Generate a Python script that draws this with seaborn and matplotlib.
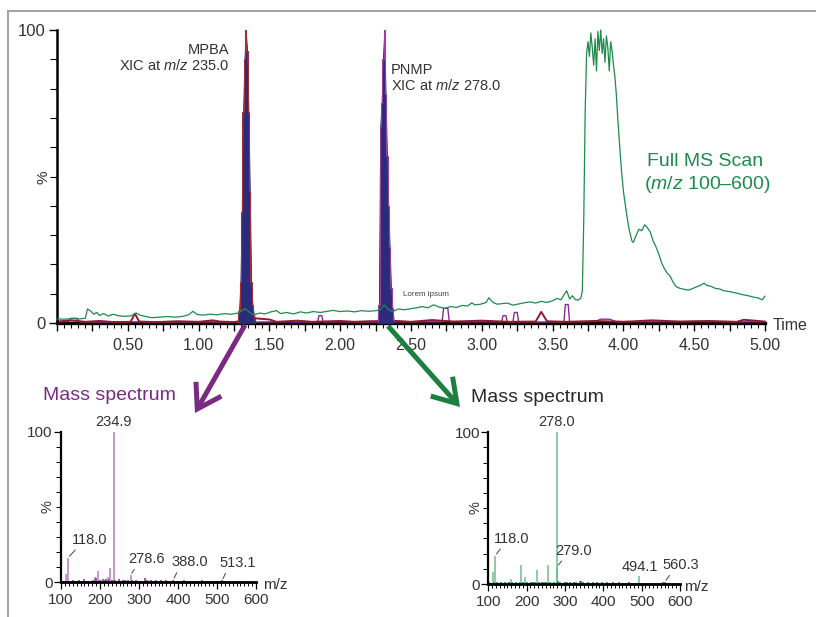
import numpy as np
import pandas as pd
import matplotlib
matplotlib.use("Agg")
import matplotlib.pyplot as plt
import seaborn as sns
from matplotlib.patches import FancyArrowPatch
from matplotlib.lines import Line2D
from matplotlib.ticker import MultipleLocator, FixedLocator, FuncFormatter

sns.set_theme(style="white")
plt.rcParams["font.family"] = ["Liberation Sans", "DejaVu Sans"]
plt.rcParams["mathtext.fontset"] = "custom"
plt.rcParams["mathtext.rm"] = "Liberation Sans"
plt.rcParams["mathtext.it"] = "Liberation Sans:italic"

# ---------------- data ----------------
# Full MS scan (TIC, m/z 100-600)
ms_time = [0.00, 0.05, 0.10, 0.15, 0.20, 0.215, 0.24, 0.26, 0.28, 0.30, 0.33, 0.36, 0.40, 0.43, 0.47,
           0.52, 0.56, 0.59, 0.63, 0.67, 0.72, 0.78, 0.84, 0.89, 0.93, 0.96, 0.99, 1.03, 1.08, 1.13,
           1.18, 1.23, 1.28, 1.31, 1.33, 1.36, 1.39, 1.43, 1.47, 1.51, 1.55, 1.58, 1.62, 1.67, 1.72,
           1.76, 1.81, 1.86, 1.91, 1.95, 2.00, 2.05, 2.10, 2.15, 2.20, 2.25, 2.28, 2.31, 2.34, 2.37,
           2.41, 2.45, 2.50, 2.54, 2.58, 2.62, 2.66, 2.70, 2.74, 2.78, 2.82, 2.86, 2.90, 2.93, 2.95,
           2.99, 3.03, 3.05, 3.08, 3.11, 3.14, 3.18, 3.22, 3.26, 3.30, 3.34, 3.38, 3.42, 3.46, 3.50,
           3.53, 3.56, 3.58, 3.60, 3.62, 3.64, 3.66, 3.68, 3.70, 3.71, 3.72, 3.73, 3.74, 3.75, 3.76,
           3.77, 3.78, 3.79, 3.80, 3.81, 3.82, 3.83, 3.84, 3.85, 3.86, 3.87, 3.88, 3.89, 3.90, 3.91,
           3.92, 3.93, 3.94, 3.95, 3.96, 3.97, 3.98, 3.99, 4.00, 4.02, 4.04, 4.06, 4.07, 4.09, 4.11,
           4.13, 4.15, 4.17, 4.19, 4.21, 4.23, 4.25, 4.27, 4.29, 4.31, 4.33, 4.35, 4.37, 4.40, 4.43,
           4.46, 4.49, 4.52, 4.55, 4.57, 4.59, 4.62, 4.65, 4.68, 4.71, 4.74, 4.77, 4.80, 4.83, 4.86,
           4.89, 4.92, 4.95, 4.98, 5.00]
ms_int = [1.4, 1.3, 1.5, 1.4, 1.6, 4.8, 4.0, 3.0, 3.6, 2.6, 3.2, 2.4, 3.0, 2.5, 2.3,
          2.4, 3.4, 2.6, 2.2, 1.8, 2.0, 2.2, 2.0, 2.3, 2.8, 4.0, 2.9, 2.7, 3.0, 2.8,
          3.2, 3.0, 3.4, 4.4, 4.9, 3.6, 2.7, 3.4, 3.1, 3.8, 4.2, 3.2, 3.6, 3.1, 3.8,
          3.4, 3.9, 3.6, 4.0, 4.3, 3.9, 4.1, 3.8, 4.2, 4.0, 4.2, 4.4, 6.2, 4.6, 3.9,
          4.8, 4.5, 4.9, 5.2, 5.6, 5.2, 6.2, 5.4, 5.0, 5.6, 5.3, 6.0, 5.8, 6.9, 6.2,
          6.4, 7.0, 8.6, 7.0, 6.4, 6.6, 6.8, 6.1, 6.5, 6.9, 7.2, 6.8, 7.4, 7.0, 7.6,
          8.4, 7.9, 9.6, 11.0, 8.2, 9.3, 8.0, 7.8, 8.5, 11.0, 35.0, 72.0, 92.0, 96.0, 91.0,
          99.0, 94.0, 88.0, 97.0, 86.0, 99.5, 93.0, 100.0, 92.0, 97.0, 89.0, 98.0, 94.0, 86.0, 96.0,
          93.0, 88.0, 84.0, 78.0, 70.0, 63.0, 56.0, 50.0, 45.0, 38.0, 32.0, 28.0, 27.5, 30.0, 32.0,
          31.5, 33.5, 32.5, 31.0, 28.0, 26.0, 23.5, 20.5, 18.5, 17.0, 16.0, 14.0, 12.5, 11.8, 11.5,
          11.2, 11.8, 12.4, 13.0, 13.6, 12.8, 12.5, 11.8, 11.6, 11.0, 10.8, 10.5, 10.2, 9.8, 9.5,
          9.2, 8.8, 8.6, 7.9, 9.2]

# MPBA XIC at m/z 235.0
mpba_base_t = [0.00, 0.10, 0.20, 0.30, 0.40, 0.52, 0.55, 0.58, 0.70, 0.85, 1.00, 1.10, 1.15, 1.25,
               1.40, 1.50, 1.55, 1.70, 1.80, 2.00, 2.10, 2.20, 2.40, 2.50, 2.65, 2.80, 3.00, 3.20,
               3.38, 3.42, 3.46, 3.60, 3.80, 4.00, 4.20, 4.40, 4.60, 4.80, 4.85, 5.00]
mpba_base_v = [0.5, 0.9, 0.4, 0.7, 0.3, 0.4, 3.2, 0.5, 0.3, 0.6, 0.4, 0.9, 0.5, 0.3,
               1.6, 1.2, 0.4, 0.8, 0.4, 0.7, 0.4, 0.6, 0.7, 0.4, 1.0, 0.5, 0.8, 0.4,
               0.5, 3.8, 0.6, 0.4, 0.7, 0.4, 0.9, 0.5, 0.7, 0.4, 1.1, 0.5]
mpba_peak_t = [1.2760, 1.2855, 1.2950, 1.3045, 1.3140, 1.3235, 1.3330, 1.3425, 1.3520, 1.3615,
               1.3710, 1.3805, 1.3900, 1.3995]
mpba_peak_v = [0.5, 4.0, 14.0, 38.0, 72.0, 90.0, 100.0, 93.0, 72.0, 45.0, 14.0, 6.0, 3.0, 1.0]

# PNMP XIC at m/z 278.0
pnmp_base_t = [0.00, 0.08, 0.10, 0.14, 0.16, 0.30, 0.50, 0.80, 1.00, 1.20, 1.40, 1.60, 1.84, 1.85,
               1.87, 1.88, 2.00, 2.20, 2.50, 2.72, 2.73, 2.76, 2.77, 2.90, 3.14, 3.15, 3.17, 3.18,
               3.22, 3.23, 3.25, 3.26, 3.40, 3.58, 3.59, 3.61, 3.62, 3.80, 3.84, 3.90, 3.95, 4.20,
               4.50, 4.80, 5.00]
pnmp_base_v = [0.4, 0.5, 1.6, 1.6, 0.4, 0.3, 0.4, 0.3, 0.4, 0.3, 0.3, 0.4, 0.3, 2.5,
               2.5, 0.3, 0.4, 0.3, 0.4, 0.4, 5.0, 5.0, 0.5, 0.4, 0.4, 2.5, 2.5, 0.4,
               0.4, 3.6, 3.6, 0.4, 0.3, 0.4, 6.3, 6.3, 0.4, 0.5, 1.3, 1.3, 0.5, 0.4,
               0.5, 0.4, 0.4]
pnmp_peak_t = [2.2635, 2.2730, 2.2825, 2.2920, 2.3015, 2.3110, 2.3205, 2.3300, 2.3395, 2.3490,
               2.3585, 2.3680, 2.3775]
pnmp_peak_v = [0.5, 6.0, 67.0, 75.0, 90.0, 100.0, 78.0, 57.0, 40.0, 26.0, 12.0, 5.0, 1.0]

# Mass spectrum of MPBA peak
spec1_mz = [101, 104, 108, 112, 115, 118, 121, 126, 131, 137, 142, 146, 151, 155, 160, 165, 170, 176,
            181, 186, 191, 195, 199, 204, 208, 212, 216, 220, 223, 226, 230, 234.9, 238, 243, 248, 253,
            258, 263, 268, 273, 278.6, 283, 288, 293, 298, 303, 308, 315, 320, 326, 332, 338, 344, 350,
            356, 362, 368, 374, 380, 388, 394, 400, 408, 415, 422, 430, 438, 446, 455, 462, 470, 478,
            486, 494, 502, 513.1, 520, 530, 540, 550, 560, 570, 580, 590, 598]
spec1_int = [0.8, 1.0, 0.6, 5.5, 0.8, 16.3, 0.9, 0.6, 1.2, 0.8, 0.5, 1.3, 0.7, 1.0, 2.0, 0.8, 1.1, 0.6,
             1.2, 3.5, 2.8, 7.5, 1.5, 1.0, 2.2, 1.3, 2.0, 3.2, 2.0, 9.8, 1.4, 100.0, 1.6, 1.0, 1.9, 0.8,
             1.2, 1.5, 0.9, 1.3, 4.8, 1.6, 1.0, 1.3, 0.7, 1.1, 0.9, 2.6, 1.2, 0.8, 1.4, 1.0, 1.6, 0.8,
             1.2, 0.9, 1.3, 0.8, 1.0, 1.6, 0.7, 1.1, 0.8, 1.2, 0.6, 1.0, 0.8, 1.0, 0.6, 1.3, 0.7, 0.9,
             0.6, 1.0, 0.8, 1.2, 0.6, 0.8, 0.5, 0.9, 0.6, 0.7, 0.5, 0.6, 0.5]
spec1_labels = [(118.0, 16.3, "118.0"), (234.9, 100.0, "234.9"), (278.6, 4.8, "278.6"),
                (388.0, 1.6, "388.0"), (513.1, 1.2, "513.1")]

# Mass spectrum of PNMP peak
spec2_mz = [101, 106, 112, 115, 118, 122, 127, 132, 138, 143, 148, 153, 158, 162, 167, 172, 177, 182,
            186, 190, 196, 201, 206, 211, 216, 221, 226, 231, 236, 241, 246, 251, 256, 261, 266, 271,
            278.0, 279.0, 283, 288, 294, 300, 306, 312, 318, 324, 330, 338, 343, 348, 354, 360, 366, 372,
            378, 384, 390, 396, 402, 410, 418, 426, 434, 442, 450, 458, 466, 474, 482, 488, 494.1, 500,
            508, 516, 524, 532, 540, 548, 556, 560.3, 566, 574, 582, 590, 598]
spec2_int = [1.0, 0.8, 8.0, 1.2, 18.7, 1.5, 0.8, 1.2, 0.6, 1.0, 0.7, 1.1, 3.3, 1.0, 0.8, 1.3, 0.9, 1.5,
             12.5, 1.4, 4.6, 1.2, 0.8, 1.6, 1.0, 1.3, 9.2, 1.4, 0.9, 1.6, 1.1, 1.4, 12.5, 1.3, 0.8, 1.2,
             100.0, 11.4, 1.8, 1.2, 0.9, 1.4, 1.0, 1.2, 0.8, 1.5, 1.0, 2.0, 1.8, 1.2, 0.9, 1.3, 0.8, 1.1,
             0.7, 1.2, 0.9, 1.0, 0.7, 1.1, 0.8, 1.0, 0.7, 1.2, 0.8, 0.6, 1.0, 0.7, 0.9, 0.6, 5.3, 0.8,
             0.6, 0.9, 0.5, 0.8, 0.6, 0.9, 1.2, 1.4, 0.8, 0.6, 0.7, 0.5, 0.6]
spec2_labels = [(118.0, 18.7, "118.0"), (278.0, 100.0, "278.0"), (279.0, 11.4, "279.0"),
                (494.1, 5.3, "494.1"), (560.3, 1.4, "560.3")]

# ---------------- styling ----------------
NAVY = "#2B2B7C"
DRED = "#8C1D2E"
PURP = "#8A2C8F"
GREEN = "#1E8B4C"
TXT = "#333333"

W, H = 816, 617
fig = plt.figure(figsize=(W / 100, H / 100), dpi=100)
fig.patch.set_facecolor("white")


def px(x, y):
    return (x / W, 1 - y / H)


# outer frame
fig.add_artist(Line2D([8 / W, 1.0], [1 - 11 / H] * 2, color="#9a9a9a", lw=1.3))
fig.add_artist(Line2D([8 / W] * 2, [0, 1 - 11 / H], color="#9a9a9a", lw=1.3))

# ---------------- main chromatogram ----------------
ax = fig.add_axes([57 / W, 1 - 323 / H, 708 / W, 293 / H])
ax.set_facecolor("none")
ax.set_xlim(0, 5.0)
ax.set_ylim(0, 100)
for s in ["top", "right"]:
    ax.spines[s].set_visible(False)
ax.spines["left"].set_color("black")
ax.spines["left"].set_linewidth(1.8)
ax.spines["bottom"].set_color("black")
ax.spines["bottom"].set_linewidth(2.4)
ax.spines["bottom"].set_zorder(1)

red_base = pd.DataFrame({"t": mpba_base_t, "v": mpba_base_v})
pur_base = pd.DataFrame({"t": pnmp_base_t, "v": pnmp_base_v})
red_peak = pd.DataFrame({"t": mpba_peak_t, "v": mpba_peak_v})
pur_peak = pd.DataFrame({"t": pnmp_peak_t, "v": pnmp_peak_v})
ms = pd.DataFrame({"t": ms_time, "v": ms_int})

sns.lineplot(data=pur_base, x="t", y="v", ax=ax, color=PURP, lw=1.0,
             estimator=None, sort=False, legend=False, zorder=2)
sns.lineplot(data=red_base, x="t", y="v", ax=ax, color=DRED, lw=1.4,
             estimator=None, sort=False, legend=False, zorder=2)
for pk in (red_peak, pur_peak):
    ax.fill_between(np.asarray(pk["t"], float), np.asarray(pk["v"], float), 0.0,
                    facecolor=NAVY, edgecolor=NAVY, lw=0.6, zorder=3, clip_on=False)
sns.lineplot(data=pur_peak, x="t", y="v", ax=ax, color="#9A3FA0", lw=0.8, drawstyle="steps-mid",
             estimator=None, sort=False, legend=False, zorder=4)
sns.lineplot(data=red_peak, x="t", y="v", ax=ax, color="#A0303A", lw=0.8, drawstyle="steps-mid",
             estimator=None, sort=False, legend=False, zorder=4)
sns.lineplot(data=ms, x="t", y="v", ax=ax, color=GREEN, lw=0.9, estimator=None, sort=False,
             legend=False, zorder=5)
for l in ax.lines:
    l.set_clip_on(False)

ax.set_xlabel("")
ax.set_ylabel("")
ax.xaxis.set_major_locator(MultipleLocator(0.25))
ax.xaxis.set_minor_locator(MultipleLocator(0.05))
ax.xaxis.set_major_formatter(FuncFormatter(
    lambda v, p: f"{v:.2f}" if (v > 0.01 and abs(v / 0.5 - round(v / 0.5)) < 1e-6) else ""))
ax.yaxis.set_major_locator(FixedLocator([0, 100]))
ax.yaxis.set_minor_locator(MultipleLocator(10))
ax.yaxis.set_major_formatter(FuncFormatter(lambda v, p: f"{int(v)}"))
ax.tick_params(axis="x", which="major", direction="out", length=6, width=1.0, color="black",
               labelsize=11.5, labelcolor=TXT, pad=5, bottom=True)
ax.tick_params(axis="x", which="minor", direction="out", length=3.5, width=0.8, color="black", bottom=True)
ax.tick_params(axis="y", which="major", direction="out", length=6, width=1.0, color="black",
               labelsize=12, labelcolor=TXT, pad=2, left=True)
ax.tick_params(axis="y", which="minor", direction="out", length=5, width=0.8, color="black", left=True)

fig.text(*px(43, 177), "%", rotation=90, ha="center", va="center", fontsize=11, color=TXT)
fig.text(*px(773, 325), "Time", ha="left", va="center", fontsize=11.5, color=TXT)

fig.text(*px(229, 50), "MPBA", ha="right", va="center", fontsize=10.5, color=TXT)
fig.text(*px(229, 65), r"XIC at $\mathit{m/z}$ 235.0", ha="right", va="center", fontsize=10.5, color=TXT)
fig.text(*px(391, 70), "PNMP", ha="left", va="center", fontsize=10.5, color=TXT)
fig.text(*px(391, 85), r"XIC at $\mathit{m/z}$ 278.0", ha="left", va="center", fontsize=10.5, color=TXT)
fig.text(*px(403, 294), "Lorem ipsum", ha="left", va="center", fontsize=5.8, color="#444444")
fig.text(*px(705, 162), "Full MS Scan", ha="center", va="center", fontsize=14, color=GREEN)
fig.text(*px(707, 184), r"($\mathit{m/z}$ 100–600)", ha="center", va="center", fontsize=14, color=GREEN)

# arrows
for (x0, y0), (x1, y1), col in [((245, 325), (195, 413), "#7B2A84"),
                                 ((388, 326), (460, 407), "#1A7F3F")]:
    fig.add_artist(FancyArrowPatch(px(x0, y0), px(x1, y1), transform=fig.transFigure,
                                   arrowstyle="->,head_length=0.55,head_width=0.35",
                                   mutation_scale=30, lw=3.6, color=col,
                                   shrinkA=0, shrinkB=0, joinstyle="miter", capstyle="butt"))

fig.text(*px(43, 395), "Mass spectrum", ha="left", va="center", fontsize=14, color="#7B2A84")
fig.text(*px(471, 397), "Mass spectrum", ha="left", va="center", fontsize=14, color="#2a2a2a")


# ---------------- mass spectra ----------------
def spectrum(rect, mz, inten, light, dark, labels, label_geo, mz_xy):
    a = fig.add_axes(rect)
    a.set_facecolor("none")
    cols = [light if v >= 3 else dark for v in inten]
    a.vlines(mz, 0, inten, colors=cols, lw=1.1, zorder=2)
    a.set_xlim(100, 600)
    a.set_ylim(0, 100)
    for s in ["top", "right"]:
        a.spines[s].set_visible(False)
    a.spines["left"].set_color("black")
    a.spines["left"].set_linewidth(1.6)
    a.spines["bottom"].set_color("black")
    a.spines["bottom"].set_linewidth(2.0)
    a.xaxis.set_major_locator(MultipleLocator(100))
    a.xaxis.set_minor_locator(MultipleLocator(10))
    a.yaxis.set_major_locator(FixedLocator([0, 100]))
    a.yaxis.set_minor_locator(MultipleLocator(10))
    a.tick_params(axis="x", which="major", direction="out", length=5, width=0.9, color="black",
                  labelsize=11, labelcolor=TXT, pad=3, bottom=True)
    a.tick_params(axis="x", which="minor", direction="out", length=3, width=0.7, color="black", bottom=True)
    a.tick_params(axis="y", which="major", direction="out", length=5, width=0.9, color="black",
                  labelsize=11, labelcolor=TXT, pad=1, left=True)
    a.tick_params(axis="y", which="minor", direction="out", length=3.5, width=0.7, color="black", left=True)
    for (m, v, t), (dx, dy, rp) in zip(labels, label_geo):
        if rp is None:
            a.annotate(t, xy=(m, v), xytext=(dx * 0.72, dy * 0.72), textcoords="offset points",
                       ha="center", va="bottom", fontsize=10.5, color=TXT)
        else:
            a.annotate(t, xy=(m, v), xytext=(dx * 0.72, dy * 0.72), textcoords="offset points",
                       ha="center", va="bottom", fontsize=10.5, color=TXT,
                       arrowprops=dict(arrowstyle="-", color="#444444", lw=0.7, relpos=(rp, 0.0),
                                       shrinkA=0, shrinkB=1.5))
    fig.text(*px(*mz_xy), "m/z", ha="left", va="center", fontsize=11, color=TXT)
    return a


s1 = spectrum([61 / W, 1 - 582.3 / H, 195 / W, 150.6 / H], spec1_mz, spec1_int,
              "#B77CBF", "#7E2A85", spec1_labels,
              [(21.7, 11, 0.18), (0, 3, None), (16, 9, 0.22), (16, 10.5, 0.2), (16, 10.5, 0.2)],
              (263, 585))
fig.text(*px(47, 507), "%", rotation=90, ha="center", va="center", fontsize=10.5, color=TXT)

s2 = spectrum([488.3 / W, 1 - 584 / H, 191.7 / W, 151.7 / H], spec2_mz, spec2_int,
              "#6CBF8B", "#1C7A3E", spec2_labels,
              [(16.5, 10, 0.25), (0, 3, None), (16.6, 9, 0.25), (0, 2, None), (16.3, 9.7, 0.25)],
              (684, 587))
fig.text(*px(475, 508), "%", rotation=90, ha="center", va="center", fontsize=10.5, color=TXT)

fig.savefig("out.png", dpi=100, facecolor="white")
